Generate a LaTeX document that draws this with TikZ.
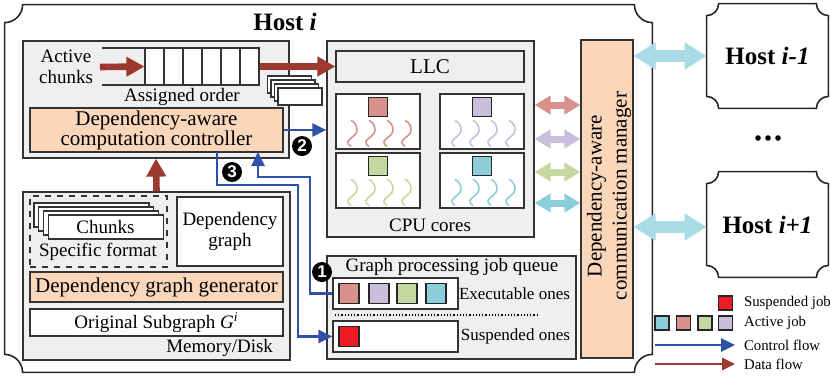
\documentclass[tikz,border=0pt]{standalone}
\usepackage{fontspec}
\setmainfont{Liberation Serif}
\newfontfamily\numfont{Liberation Sans}
\usetikzlibrary{arrows.meta,calc,fit,positioning}
\definecolor{panelgray}{RGB}{239,239,239}
\definecolor{peach}{RGB}{250,214,186}
\definecolor{datared}{RGB}{156,56,46}
\definecolor{ctlblue}{RGB}{47,82,168}
\definecolor{bigcyan}{RGB}{170,220,230}
\definecolor{jr}{RGB}{217,145,141}
\definecolor{jp}{RGB}{201,191,221}
\definecolor{jg}{RGB}{197,216,160}
\definecolor{jc}{RGB}{141,206,219}
\definecolor{suspred}{RGB}{237,28,36}
\tikzset{l/.style={font=\fontsize{10.5}{10}\selectfont}}
\tikzset{m/.style={font=\fontsize{9.5}{10.5}\selectfont}}
\tikzset{q/.style={font=\fontsize{8.5}{9}\selectfont}}
\tikzset{lg/.style={font=\fontsize{7.4}{8}\selectfont}}
\tikzset{hb/.style={font=\fontsize{12.5}{13}\selectfont\bfseries}}
\tikzset{box/.style={draw=black!80, line width=.6pt, inner sep=0pt}}
\tikzset{panel/.style={box, fill=panelgray}}
\tikzset{peachbox/.style={box, fill=peach}}
\tikzset{cell/.style={draw=black!80, line width=.6pt}}
\tikzset{frame/.style={inner sep=0pt}}
\tikzset{hostline/.style={draw=black!85, line width=.8pt}}
\tikzset{job/.style={draw=black!85, line width=.7pt, minimum size=9.5pt, inner sep=0pt}}
\tikzset{qjob/.style={job, minimum size=10pt}}
\tikzset{lgjob/.style={job, line width=.6pt, minimum size=7pt}}
\tikzset{data/.style={draw=datared, line width=3.3pt, -{Triangle[length=9pt,width=9.5pt]}}}
\tikzset{ctl/.style={draw=ctlblue, line width=1.3pt, -{Triangle[length=7pt,width=6.5pt]}}}
\tikzset{dbl/.style={line width=3.5pt, {Triangle[length=8pt,width=9pt]}-{Triangle[length=8pt,width=9pt]}}}
\tikzset{hostlink/.style={draw=bigcyan, line width=6pt, {Triangle[length=11pt,width=13pt]}-{Triangle[length=11pt,width=13pt]}}}
\tikzset{num/.style={circle, fill=black, text=white, inner sep=0pt, minimum size=10pt, font=\numfont\fontsize{8.5}{8.5}\selectfont\bfseries}}
% host outline with hollow corners
\newcommand{\plaque}[2]{
  \draw[hostline] ($(#1.north west)+(#2,0)$) -- ($(#1.north east)+(-#2,0)$)
    .. controls +(0,.55*#2) and +(-.55*#2,0) .. ($(#1.north east)+(0,#2)$)
    -- ($(#1.south east)+(0,-#2)$)
    .. controls +(-.55*#2,0) and +(0,-.55*#2) .. ($(#1.south east)+(-#2,0)$)
    -- ($(#1.south west)+(#2,0)$)
    .. controls +(0,-.55*#2) and +(.55*#2,0) .. ($(#1.south west)+(0,-#2)$)
    -- ($(#1.north west)+(0,#2)$)
    .. controls +(.55*#2,0) and +(0,.55*#2) .. ($(#1.north west)+(#2,0)$)
    -- cycle;
}
% one wavy thread, hanging from coordinate (p)
\newcommand{\squig}{
  (p) .. controls ($(p)+(4,2)$) and ($(p)+(6,5)$) .. ($(p)+(6,10)$)
      .. controls ($(p)+(6,15)$) and ($(p)+(-1,17)$) .. ($(p)+(-3,21)$)
      .. controls ($(p)+(-4,23)$) and ($(p)+(-2,25)$) .. ($(p)+(0,26)$)
}

\begin{document}
\begin{tikzpicture}[x=0.5pt,y=-0.5pt]
    \useasboundingbox (0,0) rectangle (830,377);
    % hosts
    \node[frame, fit={(5,5) (652,372)}] (host) {};
    \plaque{host}{18}
    \node[hb] (title) at (285,22) {Host \textit{i}};
    \node[frame, fit={(707,4) (828,108)}] (hostA) {};
    \plaque{hostA}{12}
    \node[hb] (hostAtxt) at (hostA.center) {Host \textit{i-1}};
    \node[frame, fit={(707,172) (828,277)}] (hostB) {};
    \plaque{hostB}{12}
    \node[hb] (hostBtxt) at (hostB.center) {Host \textit{i+1}};
    \foreach \x in {758,768,778}
      \fill (\x,138) circle (2.8);

    % computation controller
    \node[panel, fit={(23,41) (289,158)}] (ctrlpanel) {};
    \node[box, fill=white, fit={(145,48) (259,85)}] (queue) {};
    \foreach \i in {1,...,5}
      \draw[cell] (145+19*\i,48) -- (145+19*\i,85);
    \draw[cell] (102,48) -- (145,48) (102,85) -- (145,85);
    \node[m, align=center] (active) at (66,67) {Active\\chunks};
    \node[m] (order) at (182,97) {Assigned order};
    \foreach \i in {0,...,3}
      \draw[cell, fill=white] (267.5+3.5*\i,76+4*\i) rectangle ++(44,17);
    \node[peachbox, fit={(30,108) (283,152)}] (controller) {};
    \node[l, align=center] (ctrltxt) at (controller.center) {Dependency-aware\\computation controller};

    % cpu
    \node[panel, fit={(327,41) (534,237)}] (cpu) {};
    \node[panel, fit={(336,51) (524,82)}] (llc) {};
    \node[l] (llctxt) at (llc.center) {LLC};
    \foreach \n/\x/\y in {core1/336/94, core2/440/94, core3/336/153, core4/440/153}
      \node[box, fill=white, fit={(\x,\y) (\x+84,\y+55)}] (\n) {};
    \node[m] (cores) at (430,225) {CPU cores};
    \foreach \c/\col in {core1/jr, core2/jp, core3/jg, core4/jc} {
      \node[job, fill=\col] (\c sq) at ($(\c.north)+(0,13.5)$) {};
      \foreach \dx in {-27,-9,9,27} {
        \coordinate (p) at ($(\c.north)+(\dx,27)$);
        \draw[\col, line width=.8pt] \squig;
      }
    }

    % memory / disk
    \node[panel, fit={(23,192) (290,360)}] (mem) {};
    \node[box, dashed, fit={(30,196) (167,267)}] (fmt) {};
    \foreach \i in {0,...,3}
      \draw[cell, fill=white] (34+4.7*\i,203+4*\i) rectangle ++(115,24);
    \node[m] (chunks) at (105.5,227) {Chunks};
    \node[m] (format) at (98,252) {Specific format};
    \node[box, fill=white, fit={(177,197) (283,266)}] (dep) {};
    \node[m, align=center] (deptxt) at (dep.center) {Dependency\\graph};
    \node[peachbox, fit={(30,272) (283,302)}] (gen) {};
    \node[l] (gentxt) at (gen.center) {Dependency graph generator};
    \node[box, fill=white, fit={(30,309) (283,336)}] (orig) {};
    \node[m] (origtxt) at (orig.center) {Original Subgraph \textit{G}\textsuperscript{\textit{i}}};
    \node[m, anchor=east] (memlbl) at (280,348) {Memory/Disk};

    % job queue
    \node[panel, fit={(327,256) (576,359)}] (jobq) {};
    \node[m] (qtitle) at (452,267) {Graph processing job queue};
    \node[box, fill=white, fit={(333,278) (458,309)}] (exe) {};
    \node[box, fill=white, fit={(333,321) (458,352)}] (susp) {};
    \foreach \x/\col [count=\k] in {349/jr, 379/jp, 407/jg, 436/jc}
      \node[qjob, fill=\col] (q\k) at (\x,293.5) {};
    \node[qjob, fill=suspred] (s1) at (349,336.5) {};
    \node[q, anchor=east] (exelbl) at (577,293.5) {Executable ones};
    \node[q, anchor=east] (susplbl) at (577,336.5) {Suspended ones};
    \draw[densely dotted, line width=.6pt] (335,315) -- (539,315);

    % communication manager
    \node[peachbox, fit={(581,40) (633,358)}] (mgr) {};
    \node[rotate=90, align=center, font=\fontsize{10.5}{12.5}\selectfont] (mgrtxt) at (609,196) {Dependency-aware\\communication manager};
    \foreach \y/\col in {105/jr, 139/jp, 172/jg, 203/jc}
      \draw[dbl, \col] (cpu.east |- 0,\y) -- (mgr.west |- 0,\y);
    \draw[hostlink] (mgr.east |- hostA.west) -- (hostA.west);
    \draw[hostlink] (mgr.east |- 0,227) -- (hostB.west |- 0,227);

    % flows
    \draw[data] (active.east) -- (queue.west);
    \draw[data] (queue.east) -- (llc.west);
    \draw[data] (mem.north) -- (ctrlpanel.south);
    \coordinate (c1) at (258,152);
    \coordinate (c3) at (217,152);
    \draw[ctl] (controller.east) -- (controller.east -| cpu.west);
    \draw[ctl] (exe.west) -| (310,177) -| (c1);
    \draw[ctl] (c3) |- (298,185) |- (susp.west);
    \node[num] (n1) at (322,272) {1};
    \node[num] (n2) at (302,146) {2};
    \node[num] (n3) at (232,172) {3};

    % legend
    \node[lgjob, fill=suspred] (lsusp) at (725.5,303) {};
    \node[lg, anchor=west] (lsusptxt) at (737,303) {Suspended job};
    \foreach \x/\col [count=\k] in {662/jc, 683.5/jr, 705/jg, 725.5/jp}
      \node[lgjob, fill=\col] (la\k) at (\x,323) {};
    \node[lg, anchor=west] (lacttxt) at (737,323) {Active job};
    \coordinate (lc0) at (655,345);
    \coordinate (lc1) at (735,345);
    \draw[ctl] (lc0) -- (lc1);
    \node[lg, anchor=west] (lctl) at (737,345) {Control flow};
    \coordinate (ld0) at (655,364);
    \coordinate (ld1) at (735,364);
    \draw[data, line width=1.4pt, -{Triangle[length=6.5pt,width=6pt]}] (ld0) -- (ld1);
    \node[lg, anchor=west] (ldata) at (737,364) {Data flow};
  \end{tikzpicture}
\end{document}
